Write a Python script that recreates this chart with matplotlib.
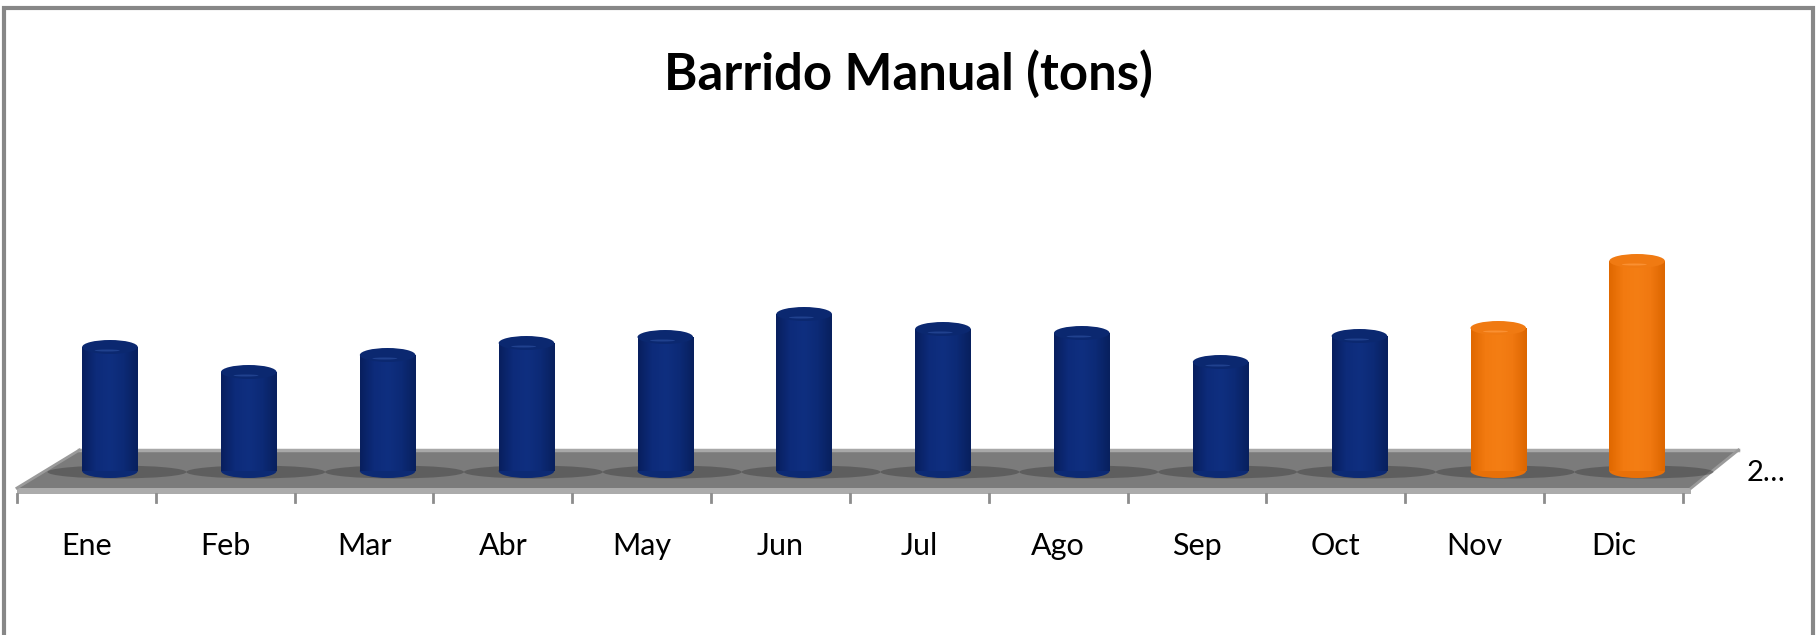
import matplotlib
matplotlib.use("Agg")
import matplotlib.pyplot as plt
import numpy as np
from matplotlib.patches import Rectangle, Ellipse, Polygon
from matplotlib.colors import LinearSegmentedColormap

# datos del grafico (alturas, unidades relativas)
meses = ["Ene", "Feb", "Mar", "Abr", "May", "Jun", "Jul", "Ago", "Sep", "Oct", "Nov", "Dic"]
valores = [124, 99, 116, 128, 134, 157, 142, 138, 109, 135, 143, 210]
destacados = [False] * 10 + [True, True]
serie = "2\u2026"
titulo = "Barrido Manual (tons)"

plt.rcParams['font.family'] = ['Lato', 'DejaVu Sans']

fig = plt.figure(figsize=(18.18, 6.35), dpi=100)
ax = fig.add_axes([0, 0, 1, 1])
ax.axis("off")

# marco gris del grafico
fig.patches.append(Rectangle((4 / 1818, -0.05), 1809 / 1818, 1.05 - 8 / 635,
                             transform=fig.transFigure, fill=False,
                             edgecolor="#878787", linewidth=3))

# piso 3D
n = len(meses)
front_y, back_y = -17, 21
piso = Polygon([(-0.5, front_y), (n - 0.44, front_y), (n - 0.10, back_y), (-0.05, back_y)],
               closed=True, facecolor="#7b7b7b", edgecolor="none", zorder=1)
ax.add_patch(piso)
frente = Polygon([(-0.5, front_y), (n - 0.44, front_y), (n - 0.44, front_y - 6), (-0.5, front_y - 6)],
                 closed=True, facecolor="#ababab", edgecolor="none", zorder=1)
ax.add_patch(frente)
ax.plot([-0.05, n - 0.10], [back_y, back_y], color="#a8a8a8", lw=2.5, zorder=1.1)
ax.plot([-0.5, -0.05], [front_y, back_y], color="#9a9a9a", lw=2, zorder=1.1)
ax.plot([n - 0.44, n - 0.10], [front_y, back_y], color="#9a9a9a", lw=2, zorder=1.1)

# marcas del eje
for k in range(n + 1):
    ax.plot([k - 0.5, k - 0.5], [front_y - 6, -31], color="#8c8c8c", lw=2, zorder=1)

ancho = 0.40
dx = 0.17
alto_elipse = 14

azul = LinearSegmentedColormap.from_list("azul", ["#081f5e", "#0d2b7a", "#0f2f80", "#0c2a76", "#08205e"])
naranja = LinearSegmentedColormap.from_list("naranja", ["#e06800", "#f27a10", "#f47e14", "#f07810", "#dc6600"])
grad = np.linspace(0, 1, 64)[np.newaxis, :]

for i, (v, d) in enumerate(zip(valores, destacados)):
    x = i + dx
    cmap = naranja if d else azul
    tapa = "#f07a12" if d else "#0b2870"
    base = "#e87008" if d else "#0c2a74"
    # sombra en el piso
    ax.add_patch(Ellipse((x + 0.05, -1), 1.0, 13, facecolor="#3c3c3c", alpha=0.45,
                         edgecolor="none", zorder=1.5))
    ax.add_patch(Ellipse((x, 0), ancho, alto_elipse, facecolor=base, edgecolor="none", zorder=2))
    cuerpo = Rectangle((x - ancho / 2, 0), ancho, v, facecolor="none", edgecolor="none", zorder=2)
    ax.add_patch(cuerpo)
    im = ax.imshow(grad, extent=[x - ancho / 2, x + ancho / 2, 0, v], aspect="auto",
                   cmap=cmap, zorder=2.1, interpolation="bilinear")
    im.set_clip_path(cuerpo)
    ax.add_patch(Ellipse((x, v), ancho, alto_elipse, facecolor=tapa, edgecolor="none", zorder=3))
    ax.add_patch(Ellipse((x - 0.02, v - 3.5), ancho * 0.45, 2,
                         facecolor="#ff9a40" if d else "#2a4c9c", alpha=0.7,
                         edgecolor="none", zorder=3.1))

ax.set_xlim(-0.622, 12.473)
ax.set_ylim(-164, 471)

for i, m in enumerate(meses):
    ax.text(i, -75, m, ha="center", va="center", fontsize=22, color="black")

ax.text(n - 0.04, -2, serie, ha="left", va="center", fontsize=21, color="black")

fig.text(908 / 1818, 1 - 74 / 635, titulo, ha="center", va="center",
         fontsize=36.5, fontweight="bold", color="black")

fig.savefig("out.png", dpi=100)
